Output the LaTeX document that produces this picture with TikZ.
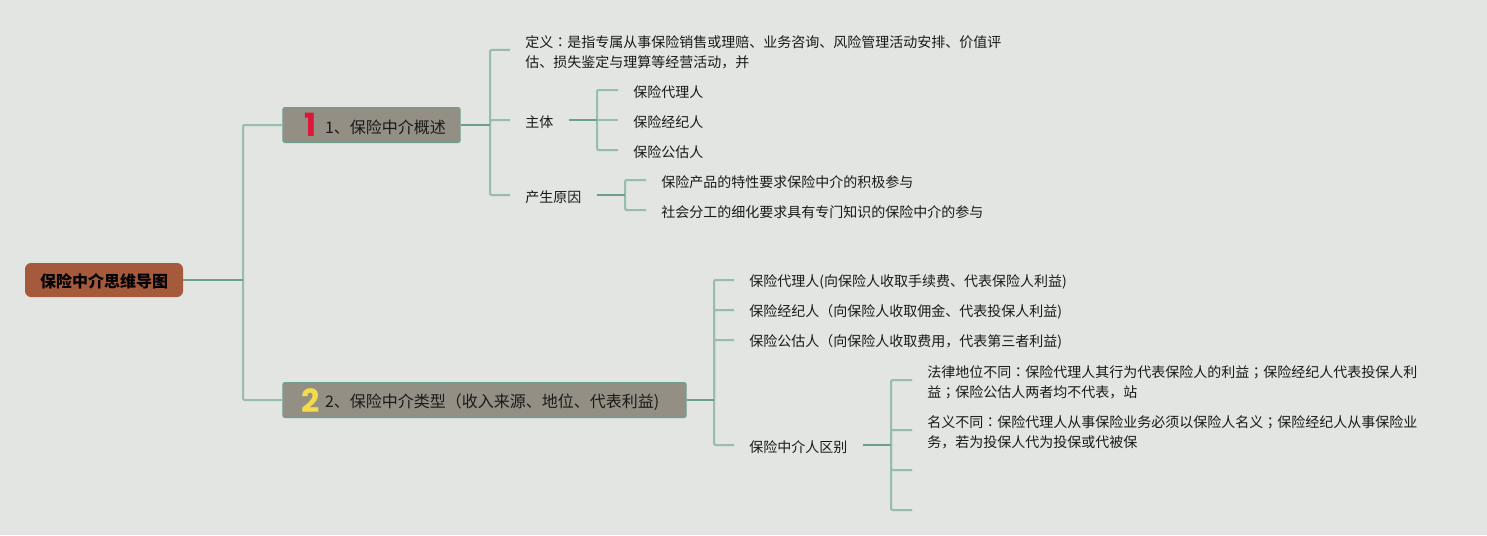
\documentclass[tikz,border=0pt]{standalone}
\usepackage{fontspec}
\setmainfont{Noto Sans CJK SC}
\newfontfamily\iconfont{Poppins}
\newfontfamily\punctfont{Noto Sans CJK JP}
\newcommand{\cpunct}[1]{{\punctfont #1}}
\definecolor{bgc}{HTML}{E2E5E1}
\definecolor{rootc}{HTML}{A55A3B}
\definecolor{topicc}{HTML}{948F85}
\definecolor{darkl}{HTML}{6D9F8D}
\definecolor{lightl}{HTML}{97BDAE}
\definecolor{onec}{HTML}{DC1738}
\definecolor{twoc}{HTML}{F3DB4B}
\definecolor{inkc}{HTML}{1A1A1A}
\tikzset{
  rootnode/.style={rectangle,rounded corners=4.5pt,fill=rootc,text=black,inner sep=0pt,minimum width=118.5pt,minimum height=25.5pt,text height=12pt,font=\fontsize{12}{15}\selectfont\bfseries},
  topicnode/.style={rectangle,rounded corners=1.5pt,draw=darkl,line width=1pt,fill=topicc,text=inkc,inner xsep=0pt,inner ysep=0pt,minimum height=26pt,text height=13pt,align=left,font=\fontsize{12}{15}\selectfont},
  leafnode/.style={rectangle,anchor=west,inner xsep=11.25pt,inner ysep=0pt,text=inkc,align=left,text height=12.3pt,font=\fontsize{10.5}{15}\selectfont},
  twolines/.style={text height=27.3pt},
  iconnode/.style={inner sep=0pt,font=\fontsize{24}{24}\iconfont\bfseries\selectfont},
  trunkline/.style={darkl,line width=1.5pt},
  branchline/.style={lightl,line width=1.5pt,rounded corners=1pt},
}
\begin{document}
\begin{tikzpicture}[x=0.75pt,y=-0.75pt]
\fill[bgc] (0,0) rectangle (1487,535);
\useasboundingbox (0,0) rectangle (1487,535);

\node[rootnode] (root) at (104,280) {保险中介思维导图};
\node[topicnode,text width=132.75pt] (t1) at (371.5,125) {\hspace*{31.5pt}1、保险中介概述};
\node[topicnode,text width=302.25pt] (t2) at (484.5,400) {\hspace*{31.5pt}2、保险中介类型（收入来源、地位、代表利益)};
\node[iconnode,text=onec] (i1) at (311,125) {1};
\node[iconnode,text=twoc] (i2) at (310.5,401) {2};

\node[leafnode,twolines] (def) at (510,50) {定义\cpunct{：}是指专属从事保险销售或理赔、业务咨询、风险管理活动安排、价值评\\估、损失鉴定与理算等经营活动，并};
\node[leafnode] (sub) at (510,120) {主体};
\node[leafnode] (cau) at (510,195) {产生原因};
\node[leafnode] (s1) at (618,90) {保险代理人};
\node[leafnode] (s2) at (618,120) {保险经纪人};
\node[leafnode] (s3) at (618,150) {保险公估人};
\node[leafnode] (c1) at (646,180) {保险产品的特性要求保险中介的积极参与};
\node[leafnode] (c2) at (646,210) {社会分工的细化要求具有专门知识的保险中介的参与};

\node[leafnode] (k1) at (734,280) {保险代理人(向保险人收取手续费、代表保险人利益)};
\node[leafnode] (k2) at (734,310) {保险经纪人（向保险人收取佣金、代表投保人利益)};
\node[leafnode] (k3) at (734,340) {保险公估人（向保险人收取费用，代表第三者利益)};
\node[leafnode] (k4) at (734,445) {保险中介人区别};
\node[leafnode,twolines] (d1) at (912,380) {法律地位不同\cpunct{：}保险代理人其行为代表保险人的利益\cpunct{；}保险经纪人代表投保人利\\益\cpunct{；}保险公估人两者均不代表，站};
\node[leafnode,twolines] (d2) at (912,430) {名义不同\cpunct{：}保险代理人从事保险业务必须以保险人名义\cpunct{；}保险经纪人从事保险业\\务，若为投保人代为投保或代被保};
\coordinate (d3) at (912,470);
\coordinate (d4) at (912,510);

\coordinate (j0) at (243,280);
\coordinate (j1) at (490,125);
\coordinate (j2) at (714,400);
\coordinate (j3) at (597,120);
\coordinate (j4) at (625,195);
\coordinate (j5) at (891,445);

\draw[branchline] (t1.west) -| (j0);
\draw[branchline] (t2.west) -| (j0);
\draw[trunkline] (root.east) -- (j0);

\draw[branchline] (def.west) -| (j1);
\draw[branchline] (sub.west) -| (j1);
\draw[branchline] (cau.west) -| (j1);
\draw[trunkline] (t1.east) -- (j1);

\draw[branchline] (s1.west) -| (j3);
\draw[branchline] (s2.west) -- (j3);
\draw[branchline] (s3.west) -| (j3);
\draw[trunkline] (sub.east) -- (j3);

\draw[branchline] (c1.west) -| (j4);
\draw[branchline] (c2.west) -| (j4);
\draw[trunkline] (cau.east) -- (j4);

\draw[branchline] (k1.west) -| (j2);
\draw[branchline] (k2.west) -| (j2);
\draw[branchline] (k3.west) -| (j2);
\draw[branchline] (k4.west) -| (j2);
\draw[trunkline] (t2.east) -- (j2);

\draw[branchline] (d1.west) -| (j5);
\draw[branchline] (d2.west) -| (j5);
\draw[branchline] (d3) -| (j5);
\draw[branchline] (d4) -| (j5);
\draw[trunkline] (k4.east) -- (j5);
\end{tikzpicture}
\end{document}
